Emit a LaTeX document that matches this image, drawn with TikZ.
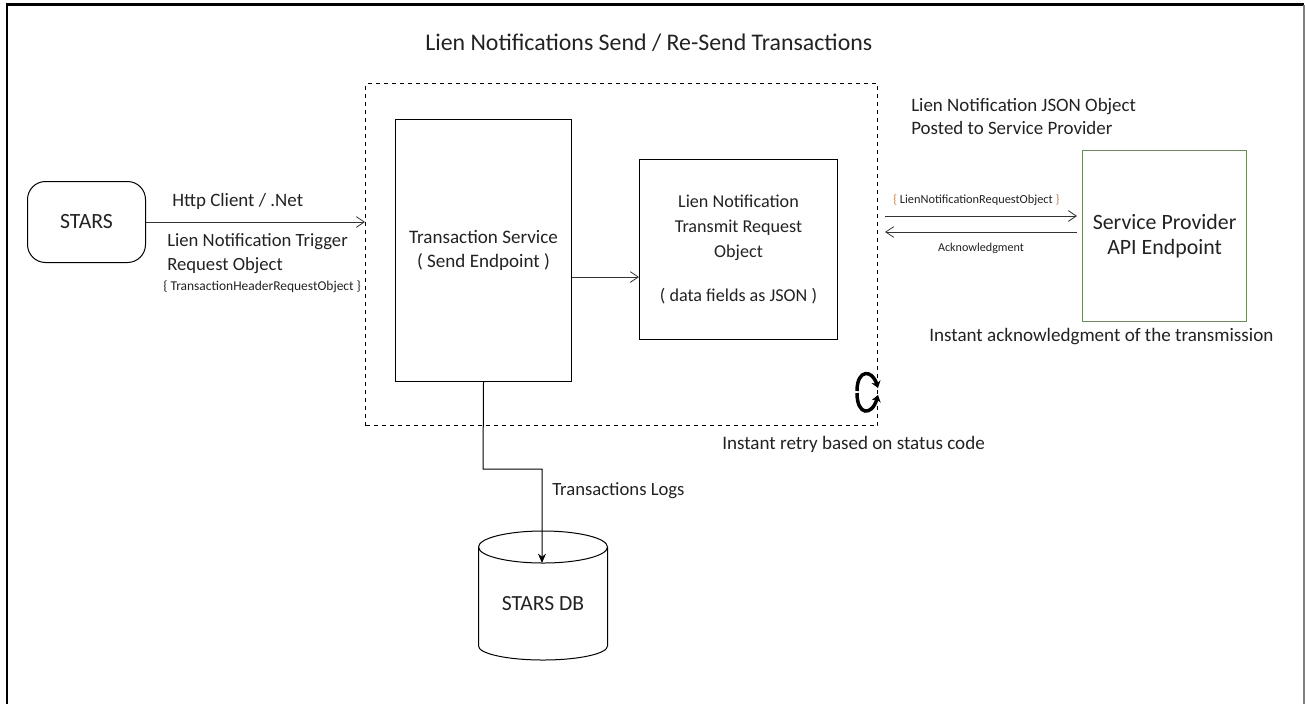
\documentclass[tikz,border=0pt]{standalone}
\usepackage{fontspec}
\setmainfont{Carlito}
\usetikzlibrary{arrows.meta}
\definecolor{txt}{HTML}{222222}
\definecolor{lineg}{HTML}{333333}
\definecolor{spgreen}{HTML}{6F8A5F}
\definecolor{brace}{HTML}{C08050}
\tikzset{
  boxn/.style={draw=black,line width=0.75pt,align=center,text=txt,inner sep=0pt,font=\fontsize{14.3}{19}\selectfont},
  lab/.style={inner sep=0pt,align=left,text=txt,font=\fontsize{14.2}{19}\selectfont},
  conn/.style={draw=lineg,line width=0.75pt,-{Straight Barb[length=6pt,width=8pt,line width=0.6pt]}},
  connb/.style={draw=black,line width=0.75pt,-{Stealth[length=7pt,width=6pt]}}
}
\begin{document}
\begin{tikzpicture}[x=0.75pt,y=-0.75pt]
\useasboundingbox (0,0) rectangle (1305,704);
% outer frame
\draw[black,line width=1.9pt] (6.8,704) -- (6.8,4.5) -- (1304,4.5);
\draw[gray,line width=1.1pt] (1304,4.5) -- (1304,704);
% title
\node[lab,anchor=west,font=\fontsize{17.9}{22}\selectfont] (title) at (425,43) {Lien Notifications Send / Re-Send Transactions};
% dashed container
\node[draw=black,dashed,line width=0.75pt,minimum width=384pt,minimum height=256.5pt,inner sep=0pt,anchor=north west] (frame) at (365,83) {};
% nodes
\node[boxn,rounded corners=13.5pt,minimum width=88.5pt,minimum height=60.75pt,anchor=north west,font=\fontsize{16.3}{20}\selectfont] (stars) at (27,181) {STARS};
\node[boxn,minimum width=132pt,minimum height=196.5pt,anchor=north west] (txs) at (395,119) {\raisebox{-1.2pt}{Transaction Service}\\\raisebox{-0.8pt}{( Send Endpoint )}};
\node[boxn,minimum width=148.5pt,minimum height=135pt,anchor=north west,font=\fontsize{13.6}{19}\selectfont] (req) at (639,159) {Lien Notification\\Transmit Request\\Object\\[14pt]( data fields as JSON )};
\node[draw=spgreen,line width=0.9pt,minimum width=123pt,minimum height=128.25pt,anchor=north west,inner sep=0pt,align=center,text=txt,font=\fontsize{16.4}{18.75}\selectfont] (sp) at (1082,150) {Service Provider\\API Endpoint};
% cylinder
\node[inner sep=0pt,minimum width=96pt,minimum height=84pt,text=txt,font=\fontsize{16.2}{20}\selectfont] (db) at (543,604) {STARS DB};
\draw[black,line width=0.75pt] (543,547) ellipse[x radius=64.5,y radius=16];
\draw[black,line width=0.75pt] (478.5,547) -- (478.5,646) arc[start angle=180,end angle=360,x radius=64.5,y radius=-14] -- (607.5,547);
\coordinate (dbtop) at (542,563);
% connectors
\draw[conn] (stars.east) -- (stars.east -| frame.west);
\coordinate (a2) at (req.west |- 0,277);
\draw[conn] (txs.east |- a2) -- (a2);
\coordinate (s1) at (885,216);
\coordinate (s2) at (1077,216);
\coordinate (r1) at (1077,232);
\coordinate (r2) at (885,232);
\draw[conn] (s1) -- (s2);
\draw[conn] (r1) -- (r2);
\draw[connb] (txs.south) -- (483,469) -- (542,469) -- (dbtop);
% labels
\node[lab,anchor=west] (l1) at (172,201) {Http Client / .Net};
\node[lab,anchor=north west,font=\fontsize{14}{18.5}\selectfont] (l2) at (167,233) {Lien Notification Trigger\\Request Object};
\node[inner sep=0pt,text=txt,font=\fontsize{10.1}{12}\selectfont,anchor=west] (l3) at (163,287) {\{ TransactionHeaderRequestObject \}};
\node[lab,anchor=north west,font=\fontsize{14.2}{17.5}\selectfont] (l4) at (911,98) {Lien Notification JSON Object\\Posted to Service Provider};
\node[inner sep=0pt,text=txt,font=\fontsize{9.25}{11}\selectfont,anchor=west] (l5) at (893,200) {\textcolor{brace}{\{} LienNotificationRequestObject \textcolor{brace}{\}}};
\node[inner sep=0pt,text=txt,font=\fontsize{9.1}{11}\selectfont] (l6) at (981,248) {Acknowledgment};
\node[lab,anchor=west,font=\fontsize{14.3}{19}\selectfont] (l7) at (929,337) {Instant acknowledgment of the transmission};
\node[lab,anchor=west,font=\fontsize{14.3}{19}\selectfont] (l8) at (722,444) {Instant retry based on status code};
\node[lab,anchor=west,font=\fontsize{14}{19}\selectfont] (l9) at (552,491) {Transactions Logs};
% retry icon
\draw[black,line width=2.6pt,-{Stealth[length=5pt,width=7pt]}] (857,391) .. controls (857,369) and (872,369) .. (878,388);
\draw[black,line width=2.6pt,-{Stealth[length=5pt,width=7pt]}] (857,393) .. controls (857,416) and (872,416) .. (878,395);
\end{tikzpicture}
\end{document}
